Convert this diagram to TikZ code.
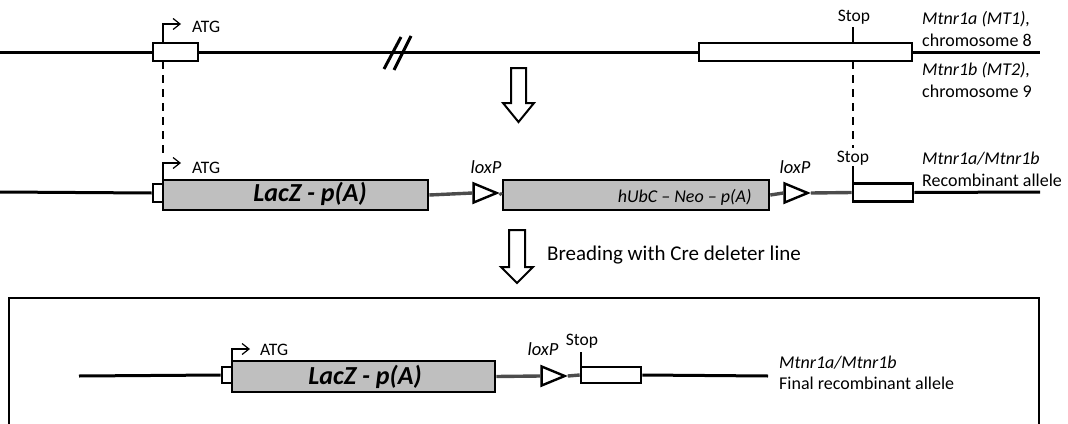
\documentclass[tikz,border=0pt]{standalone}
\usepackage{fontspec}
\setmainfont{Carlito}
\usetikzlibrary{arrows.meta,shapes.geometric}

\tikzset{
  gene/.style={line width=3pt},
  spacer/.style={line width=3.4pt,draw=black!70},
  exon/.style={draw,line width=2.6pt,fill=white,inner sep=0pt,minimum height=18pt},
  cassette/.style={draw,line width=2.6pt,fill=black!25,inner sep=0pt,minimum height=30pt},
  lox/.style={draw,line width=2.4pt,fill=white,isosceles triangle,isosceles triangle stretches,
    inner sep=0pt,minimum width=19pt,minimum height=23pt},
  promoter/.style={line width=1.2pt,-{Straight Barb[length=7pt,width=11pt]}},
  lbl/.style={font=\fontsize{17.5}{20}\selectfont,inner sep=0pt},
  ilbl/.style={lbl,font=\fontsize{18.5}{20}\selectfont\itshape},
  side/.style={lbl,anchor=west,align=left,font=\fontsize{18}{22}\selectfont},
  guide/.style={line width=1.2pt,dash pattern=on 8pt off 6pt},
  hollow/.style={line width=2pt,fill=white}
}
\newcommand{\hollowdown}[5]{% x-left x-right top head-y tip-y
  \draw[hollow] (#1,#3) -- (#2,#3) -- (#2,#4) -- ({#2+8},#4) -- ({(#1+#2)/2},#5)
    -- ({#1-8},#4) -- (#1,#4) -- cycle;}

\begin{document}
\begin{tikzpicture}[x=1pt,y=-1pt]
\useasboundingbox (0,0) rectangle (1068,423);
\clip (0,0) rectangle (1068,423);

% wild-type locus
\coordinate (a0) at (0,52);
\coordinate (a9) at (1040,52);
\node[exon,minimum width=45pt] (ex1) at (175.5,52) {};
\node[exon,minimum width=213pt] (ex2) at (805.5,52) {};
\draw[gene] (a0) -- (ex1.west);
\draw[gene] (ex1.east) -- (ex2.west);
\draw[gene] (ex2.east) -- (a9);
\draw[line width=3pt] (384,69) -- (401,37);
\draw[line width=3pt] (394,70) -- (411,36);
\draw[promoter] (163,43) |- (181,24);
\node[lbl,anchor=west] (atg1) at (192,27) {ATG};
\draw[line width=1.2pt] (853,43) -- (853,27);
\node[lbl] (stop1) at (854,17) {Stop};
\node[side] (mt1) at (922,29) {\textit{Mtnr1a (MT1),}\\chromosome 8};
\node[side] (mt2) at (922,80) {\textit{Mtnr1b (MT2),}\\chromosome 9};
\draw[guide] (163,61) -- (163,156);
\draw[guide] (853,61) -- (853,148);

\hollowdown{511}{526}{68}{103}{122}

% recombinant allele
\coordinate (b0) at (0,192);
\coordinate (b9) at (1040,192);
\node[exon,minimum width=10pt] (ex3) at (158,193) {};
\node[cassette,minimum width=265pt] (lacz) at (295.5,195) {};
\node[font=\fontsize{26}{28}\selectfont\bfseries\itshape] at (310,194) {LacZ - p(A)};
\node[lox] (lox1) at (480,193) {};
\node[cassette,minimum width=266pt] (neo) at (636,195) {};
\node[font=\fontsize{18}{20}\selectfont\itshape,anchor=east] at (755,197) {hUbC -- Neo -- p(A)};
\node[lox] (lox2) at (791,193) {};
\node[exon,minimum width=60pt] (ex4) at (883,192.5) {};
\draw[gene] (b0) -- (ex3.west);
\draw[spacer] (lacz.east) -- (lox1.west);
\draw[spacer] (lox1.east) -- (neo.west);
\draw[spacer] (neo.east) -- (lox2.west);
\draw[spacer] (lox2.east) -- (ex4.west);
\draw[gene] (ex4.east) -- (b9);
\draw[promoter] (163,180) |- (181,163);
\node[lbl,anchor=west] (atg2) at (192,168) {ATG};
\node[ilbl] (lp1) at (486,167) {loxP};
\node[ilbl] (lp2) at (795,167) {loxP};
\draw[line width=1.2pt] (853,183) -- (853,166);
\node[lbl] (stop2) at (853,158) {Stop};
\node[side] (rec) at (922,169) {\textit{Mtnr1a/Mtnr1b}\\Recombinant allele};

\hollowdown{509}{525}{230}{267}{283}
\node[lbl,anchor=west,font=\fontsize{21}{24}\selectfont] (cre) at (547,255) {Breading with Cre deleter line};

% final allele
\draw[line width=2.4pt] (9,440) -- (9,298) -- (1039,298) -- (1039,440);
\coordinate (c0) at (79,376);
\coordinate (c9) at (768,376);
\node[exon,minimum width=10pt,minimum height=16pt] (ex5) at (227,375) {};
\node[cassette,minimum width=263pt,minimum height=31pt] (lacz3) at (363.5,376.5) {};
\node[font=\fontsize{26}{28}\selectfont\bfseries\itshape] at (365,377) {LacZ - p(A)};
\node[lox] (lox3) at (548,376) {};
\node[exon,minimum width=60pt,minimum height=16pt] (ex6) at (611,375) {};
\draw[gene] (c0) -- (ex5.west);
\draw[spacer] (lacz3.east) -- (lox3.west);
\draw[spacer] (lox3.east) -- (ex6.west);
\draw[gene] (ex6.east) -- (c9);
\draw[promoter] (232,361) |- (250,349);
\node[lbl,anchor=west] (atg3) at (260,350) {ATG};
\node[ilbl] (lp3) at (543,349) {loxP};
\draw[line width=1.2pt] (581,367) -- (581,352);
\node[lbl] (stop3) at (582,341) {Stop};
\node[side,font=\fontsize{18}{21}\selectfont] (fin) at (779,373) {\textit{Mtnr1a/Mtnr1b}\\Final recombinant allele};
\end{tikzpicture}
\end{document}
